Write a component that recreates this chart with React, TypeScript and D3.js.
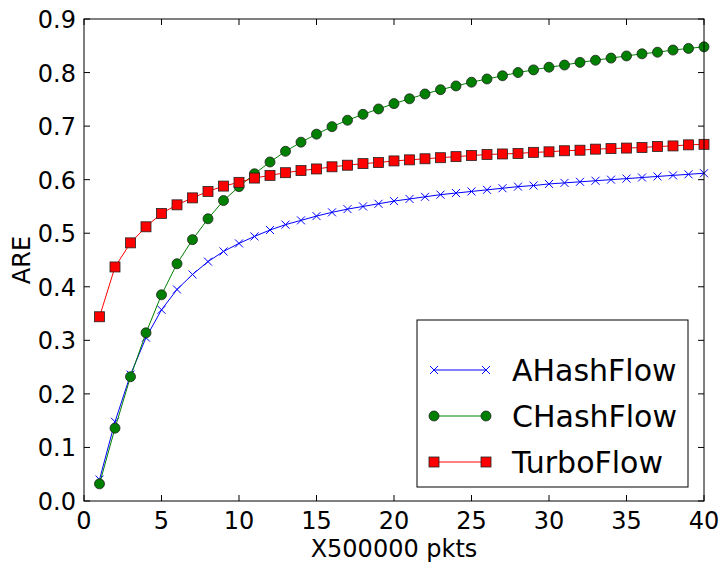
import React from "react";
import * as d3 from "d3";

const xs = d3.range(1, 41);
const aHash = [0.04,0.148,0.236,0.305,0.357,0.395,0.423,0.447,0.466,0.481,0.494,0.506,0.516,0.524,0.532,0.539,0.545,0.55,0.555,0.56,0.564,0.568,0.572,0.575,0.578,0.581,0.584,0.587,0.589,0.592,0.594,0.596,0.598,0.6,0.602,0.604,0.606,0.608,0.61,0.612];
const cHash = [0.032,0.136,0.232,0.314,0.385,0.443,0.488,0.527,0.561,0.587,0.611,0.633,0.653,0.67,0.685,0.699,0.711,0.722,0.732,0.742,0.751,0.76,0.768,0.775,0.782,0.788,0.794,0.8,0.805,0.81,0.814,0.819,0.823,0.827,0.831,0.835,0.838,0.842,0.845,0.848];
const turbo = [0.344,0.437,0.482,0.512,0.537,0.553,0.566,0.578,0.588,0.595,0.603,0.608,0.613,0.617,0.62,0.624,0.627,0.63,0.632,0.635,0.637,0.639,0.641,0.643,0.645,0.647,0.648,0.649,0.651,0.652,0.654,0.655,0.657,0.658,0.659,0.66,0.662,0.663,0.665,0.666];
const xTicks = [0, 5, 10, 15, 20, 25, 30, 35, 40];
const yTicks = [0, 0.1, 0.2, 0.3, 0.4, 0.5, 0.6, 0.7, 0.8, 0.9];

const L = 84, R = 704, T = 19, B = 501;
const FONT = "DejaVu Sans, sans-serif";

function Marker({ kind, x, y, color }: { kind: string; x: number; y: number; color: string }) {
  if (kind === "x") return <path d={`M${x - 4},${y - 4}L${x + 4},${y + 4}M${x - 4},${y + 4}L${x + 4},${y - 4}`} stroke={color} strokeWidth={1} fill="none" />;
  if (kind === "o") return <circle cx={x} cy={y} r={5} fill={color} stroke="#222" strokeWidth={0.8} />;
  return <rect x={x - 5} y={y - 5} width={10} height={10} fill={color} stroke="#222" strokeWidth={0.8} />;
}

export default function App() {
  const x = d3.scaleLinear().domain([0, 40]).range([L, R]);
  const y = d3.scaleLinear().domain([0, 0.9]).range([B, T]);
  const series = [
    { name: "AHashFlow", data: aHash, color: "#0000ff", kind: "x" },
    { name: "CHashFlow", data: cHash, color: "#008000", kind: "o" },
    { name: "TurboFlow", data: turbo, color: "#ff0000", kind: "s" },
  ];
  const line = d3.line<number>().x((_, i) => x(xs[i])).y((d) => y(d));
  return (
    <svg width={727} height={572} style={{ position: "absolute", left: 0, top: 0, background: "#fff" }} fontFamily={FONT}>
      <rect width={727} height={572} fill="#fff" />
      {series.map((s) => (
        <g key={s.name}>
          <path d={line(s.data) || ""} fill="none" stroke={s.color} strokeWidth={1} />
          {s.data.map((v, i) => <Marker key={i} kind={s.kind} x={x(xs[i])} y={y(v)} color={s.color} />)}
        </g>
      ))}
      <rect x={L} y={T} width={R - L} height={B - T} fill="none" stroke="#000" strokeWidth={1} />
      {xTicks.map((t) => (
        <g key={t}>
          <line x1={x(t)} x2={x(t)} y1={B} y2={B - 6} stroke="#000" />
          <line x1={x(t)} x2={x(t)} y1={T} y2={T + 6} stroke="#000" />
          <text x={x(t)} y={B + 28} fontSize={24} textAnchor="middle">{t}</text>
        </g>
      ))}
      {yTicks.map((t) => (
        <g key={t}>
          <line x1={L} x2={L + 6} y1={y(t)} y2={y(t)} stroke="#000" />
          <line x1={R} x2={R - 6} y1={y(t)} y2={y(t)} stroke="#000" />
          <text x={L - 8} y={y(t) + 9} fontSize={24} textAnchor="end">{t.toFixed(1)}</text>
        </g>
      ))}
      <text x={(L + R) / 2} y={557} fontSize={24} textAnchor="middle">X500000 pkts</text>
      <text transform={`translate(30,${(T + B) / 2}) rotate(-90)`} fontSize={24} textAnchor="middle">ARE</text>
      <rect x={417} y={320} width={271} height={167} fill="#fff" stroke="#000" />
      {series.map((s, i) => {
        const cy = 370 + i * 46;
        return (
          <g key={s.name}>
            <line x1={434} x2={486} y1={cy} y2={cy} stroke={s.color} />
            <Marker kind={s.kind} x={434} y={cy} color={s.color} />
            <Marker kind={s.kind} x={486} y={cy} color={s.color} />
            <text x={512} y={cy + 11} fontSize={30}>{s.name}</text>
          </g>
        );
      })}
    </svg>
  );
}
